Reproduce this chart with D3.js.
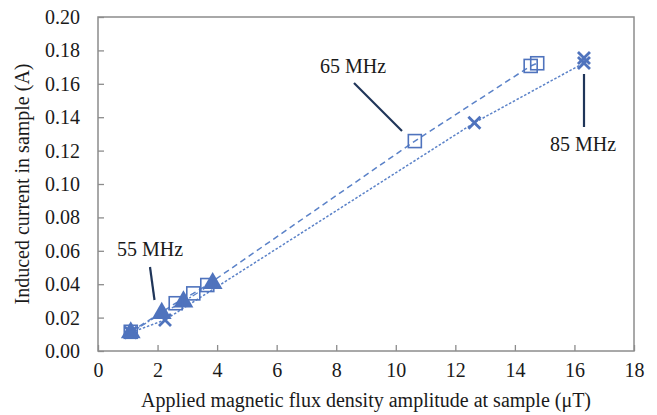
<!DOCTYPE html>
<html>
<head>
<meta charset="utf-8">
<script src="https://cdn.jsdelivr.net/npm/d3@7"></script>
<style>
  body { margin: 0; background: #fff; }
  svg text { font-family: "Liberation Serif", "Tinos", "Times New Roman", "Nimbus Roman", "DejaVu Serif", serif !important; fill: #1a1a1a; }
</style>
</head>
<body>
<div class="chart"></div>
<script>
var svgWidth = 657;
var svgHeight = 415;

var margin = { top: 17, right: 23, bottom: 64, left: 98 };
var width = svgWidth - margin.left - margin.right;
var height = svgHeight - margin.top - margin.bottom;

var serif = "'Liberation Serif', 'Tinos', 'Times New Roman', 'Nimbus Roman', 'DejaVu Serif', serif";

// data: [flux density (uT), current (A)]
var mhz55 = [[1.1, 0.011], [2.14, 0.0226], [2.87, 0.0295], [3.85, 0.0405]];
var mhz65 = [[1.1, 0.0115], [2.61, 0.0286], [3.2, 0.0345], [3.67, 0.0395],
             [10.64, 0.1257], [14.53, 0.1707], [14.75, 0.1723]];
var mhz85 = [[1.1, 0.011], [2.25, 0.0186], [12.64, 0.1367], [16.32, 0.1725], [16.32, 0.1755]];

var xTicks = [0, 2, 4, 6, 8, 10, 12, 14, 16, 18];
var yTicks = [0, 0.02, 0.04, 0.06, 0.08, 0.10, 0.12, 0.14, 0.16, 0.18, 0.20];

var markerBlue = "#4f73bd";
var lineBlue = "#5b82c8";
var navy = "#1f3559";

var svg = d3.select(".chart")
  .append("svg")
  .attr("width", svgWidth)
  .attr("height", svgHeight)
  .attr("font-family", serif);

var chartGroup = svg.append("g")
  .attr("transform", `translate(${margin.left}, ${margin.top})`);

var x = d3.scaleLinear().domain([0, 18]).range([0, width]);
var y = d3.scaleLinear().domain([0, 0.2]).range([height, 0]);

// axes, ticks pointing inward
var bottomAxis = d3.axisBottom(x).tickValues(xTicks).tickSize(-6).tickPadding(12)
  .tickFormat(d3.format("d"));
var leftAxis = d3.axisLeft(y).tickValues(yTicks).tickSize(-6).tickPadding(18)
  .tickFormat(d3.format(".2f"));

var xAxis = chartGroup.append("g")
  .attr("transform", `translate(0, ${height})`)
  .call(bottomAxis);
var yAxis = chartGroup.append("g").call(leftAxis);

[xAxis, yAxis].forEach(function(a) {
  a.attr("font-family", serif).attr("font-size", 20);
  a.select(".domain").remove();
  a.selectAll("line").attr("stroke", "#8c8c8c").attr("stroke-width", 1.3);
  a.selectAll("text").attr("fill", "#1a1a1a");
});

// plot frame
chartGroup.append("rect")
  .attr("x", 0).attr("y", 0)
  .attr("width", width).attr("height", height)
  .attr("fill", "none")
  .attr("stroke", "#8c8c8c")
  .attr("stroke-width", 1.5);

// connecting lines
var line = d3.line().x(d => x(d[0])).y(d => y(d[1]));

chartGroup.append("path")
  .datum(mhz55)
  .attr("d", line)
  .attr("fill", "none")
  .attr("stroke", lineBlue)
  .attr("stroke-width", 1.3)
  .attr("stroke-dasharray", "6,2,2,2");

chartGroup.append("path")
  .datum(mhz65)
  .attr("d", line)
  .attr("fill", "none")
  .attr("stroke", lineBlue)
  .attr("stroke-width", 1.5)
  .attr("stroke-dasharray", "6,4");

chartGroup.append("path")
  .datum(mhz85)
  .attr("d", line)
  .attr("fill", "none")
  .attr("stroke", lineBlue)
  .attr("stroke-width", 1.5)
  .attr("stroke-dasharray", "2.5,1.8");

// 55 MHz triangles
chartGroup.selectAll(".tri")
  .data(mhz55)
  .enter()
  .append("path")
  .attr("class", "tri")
  .attr("transform", d => `translate(${x(d[0])}, ${y(d[1])})`)
  .attr("d", d3.symbol().type(d3.symbolTriangle).size(170))
  .attr("fill", markerBlue);

// 65 MHz squares
chartGroup.selectAll(".sq")
  .data(mhz65)
  .enter()
  .append("rect")
  .attr("class", "sq")
  .attr("x", d => x(d[0]) - 6.5)
  .attr("y", d => y(d[1]) - 6.5)
  .attr("width", 13)
  .attr("height", 13)
  .attr("fill", "none")
  .attr("stroke", markerBlue)
  .attr("stroke-width", 1.6);

// 85 MHz crosses
chartGroup.selectAll(".cross")
  .data(mhz85)
  .enter()
  .append("path")
  .attr("class", "cross")
  .attr("transform", d => `translate(${x(d[0])}, ${y(d[1])})`)
  .attr("d", "M-6,-6L6,6M-6,6L6,-6")
  .attr("stroke", markerBlue)
  .attr("stroke-width", 2.8)
  .attr("fill", "none");

// annotations
var notes = [
  { label: "55 MHz", tx: 117, ty: 256, x1: 150, y1: 267, x2: 154.5, y2: 300 },
  { label: "65 MHz", tx: 320, ty: 73, x1: 354, y1: 83, x2: 402, y2: 131 },
  { label: "85 MHz", tx: 550, ty: 151, x1: 584, y1: 74, x2: 584, y2: 127 }
];

notes.forEach(function(n) {
  svg.append("line")
    .attr("x1", n.x1).attr("y1", n.y1)
    .attr("x2", n.x2).attr("y2", n.y2)
    .attr("stroke", navy)
    .attr("stroke-width", 2.2);
  svg.append("text")
    .attr("x", n.tx)
    .attr("y", n.ty)
    .attr("font-size", 20)
    .text(n.label);
});

// axis titles
svg.append("text")
  .attr("x", margin.left + width / 2)
  .attr("y", 407)
  .attr("text-anchor", "middle")
  .attr("font-size", 20)
  .text("Applied magnetic flux density amplitude at sample (\u03bcT)");

svg.append("text")
  .attr("transform", "rotate(-90)")
  .attr("x", -(margin.top + height / 2))
  .attr("y", 29)
  .attr("text-anchor", "middle")
  .attr("font-size", 20)
  .text("Induced current in sample (A)");
</script>
</body>
</html>
